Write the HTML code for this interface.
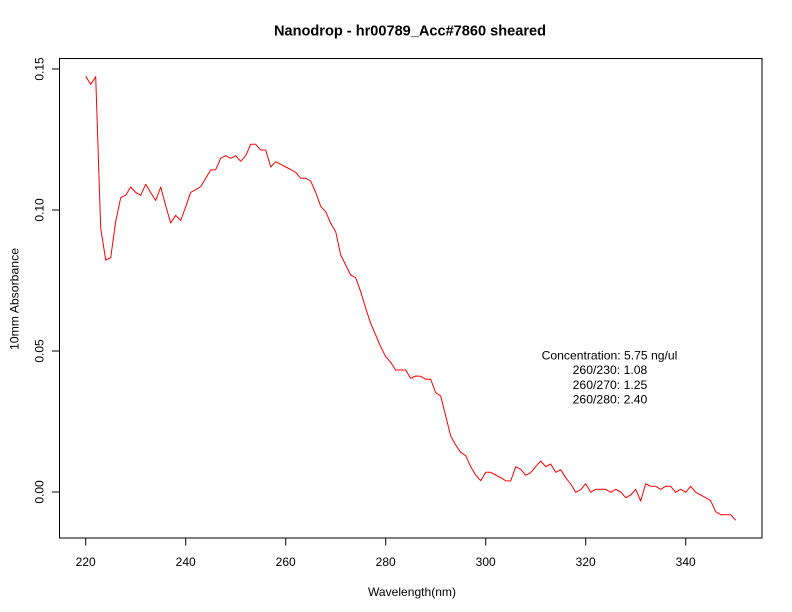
<!DOCTYPE html>
<html><head><meta charset="utf-8"><style>
html,body{margin:0;padding:0;background:#fff;}
svg{display:block;}
text{font-family:"Liberation Sans",Arial,sans-serif;fill:#000;}
</style></head><body>
<svg width="792" height="612" viewBox="0 0 792 612" xmlns="http://www.w3.org/2000/svg">
<rect width="792" height="612" fill="#fff"/>
<text x="410" y="35.5" font-size="14.4" font-weight="bold" text-anchor="middle" textLength="272" lengthAdjust="spacingAndGlyphs">Nanodrop - hr00789_Acc#7860 sheared</text>
<rect x="59.5" y="58.5" width="702.5" height="479.5" fill="none" stroke="#000" stroke-width="1"/>
<g stroke="#000" stroke-width="1">
<line x1="52" y1="69" x2="59.5" y2="69"/>
<line x1="52" y1="210" x2="59.5" y2="210"/>
<line x1="52" y1="351" x2="59.5" y2="351"/>
<line x1="52" y1="492" x2="59.5" y2="492"/>
<line x1="85.7" y1="538" x2="85.7" y2="545.5"/>
<line x1="185.7" y1="538" x2="185.7" y2="545.5"/>
<line x1="285.7" y1="538" x2="285.7" y2="545.5"/>
<line x1="385.7" y1="538" x2="385.7" y2="545.5"/>
<line x1="485.7" y1="538" x2="485.7" y2="545.5"/>
<line x1="585.7" y1="538" x2="585.7" y2="545.5"/>
<line x1="685.7" y1="538" x2="685.7" y2="545.5"/>
</g>
<g font-size="12" text-anchor="middle">
<text transform="translate(43.5,69) rotate(-90)">0.15</text>
<text transform="translate(43.5,210) rotate(-90)">0.10</text>
<text transform="translate(43.5,351) rotate(-90)">0.05</text>
<text transform="translate(43.5,492) rotate(-90)">0.00</text>
<text x="85.7" y="566">220</text>
<text x="185.7" y="566">240</text>
<text x="285.7" y="566">260</text>
<text x="385.7" y="566">280</text>
<text x="485.7" y="566">300</text>
<text x="585.7" y="566">320</text>
<text x="685.7" y="566">340</text>
<text x="412" y="596" textLength="88" lengthAdjust="spacingAndGlyphs">Wavelength(nm)</text>
<text transform="translate(18.3,299) rotate(-90)" textLength="102" lengthAdjust="spacingAndGlyphs">10mm Absorbance</text>
<text x="609.5" y="359.3" textLength="135.7" lengthAdjust="spacingAndGlyphs">Concentration: 5.75 ng/ul</text>
<text x="610" y="374.2" textLength="74.7" lengthAdjust="spacingAndGlyphs">260/230: 1.08</text>
<text x="610" y="388.8" textLength="74.7" lengthAdjust="spacingAndGlyphs">260/270: 1.25</text>
<text x="610" y="403.4" textLength="74.7" lengthAdjust="spacingAndGlyphs">260/280: 2.40</text>
</g>
<polyline fill="none" stroke="#ff0000" stroke-width="1" stroke-linejoin="round" points="
85.7,76.3 90.7,84.3 95.7,76.7 100.7,228.3 105.7,260 110.7,257.7 115.7,221.5 120.7,197.7 125.7,195.2 130.7,187
135.7,192.5 140.7,195.2 145.7,184.3 150.7,192.5 155.7,200.5 160.7,187 165.7,205.7 170.7,223 175.7,215.3 180.7,220.5
185.7,206.7 190.7,192.3 195.7,189.7 200.7,186.7 205.7,178.3 210.7,170 215.7,169.7 220.7,158.3 225.7,155.7 230.7,158.3
235.7,155.7 240.7,161.3 245.7,155.7 250.7,144.3 255.7,144.3 260.7,150 265.7,150 270.7,167 275.7,161.7 280.7,164.3
285.7,167 290.7,169.5 295.7,172.5 300.7,178.2 305.7,178.2 310.7,181 315.7,192.5 320.7,206.3 325.7,211.7 330.7,223.3
335.7,231.7 340.7,255 345.7,265 350.7,275 355.7,277.7 360.7,291.7 365.7,308.3 370.7,323.3 375.7,335 380.7,346.7
385.7,356.7 390.7,362.3 395.7,370 400.7,370 405.7,370 410.7,378.3 415.7,376 420.7,376.3 425.7,379.3 430.7,379.3
435.7,392.7 440.7,396 445.7,416 450.7,436 455.7,445 460.7,452.3 465.7,455.7 470.7,466.7 475.7,475 480.7,480.7
485.7,472.3 490.7,472.3 495.7,475 500.7,477.7 505.7,480.7 510.7,481 515.7,466.7 520.7,469.3 525.7,475.3 530.7,472.7
535.7,466.7 540.7,461 545.7,466.7 550.7,464 555.7,472.3 560.7,469.7 565.7,477.7 570.7,484 575.7,492.3 580.7,489.7
585.7,483.7 590.7,492.3 595.7,489.3 600.7,489.3 605.7,489.3 610.7,492.3 615.7,489.3 620.7,492 625.7,497.7 630.7,495
635.7,489.3 640.7,501 645.7,483.7 650.7,486.3 655.7,486.3 660.7,489.3 665.7,486.3 670.7,486.3 675.7,492.3 680.7,489.3
685.7,492.3 690.7,486.3 695.7,492.3 700.7,495 705.7,497.7 710.7,500.7 715.7,511.7 720.7,514.7 725.7,514.7 730.7,514.7
735.7,520.3"/>
</svg>
</body></html>
